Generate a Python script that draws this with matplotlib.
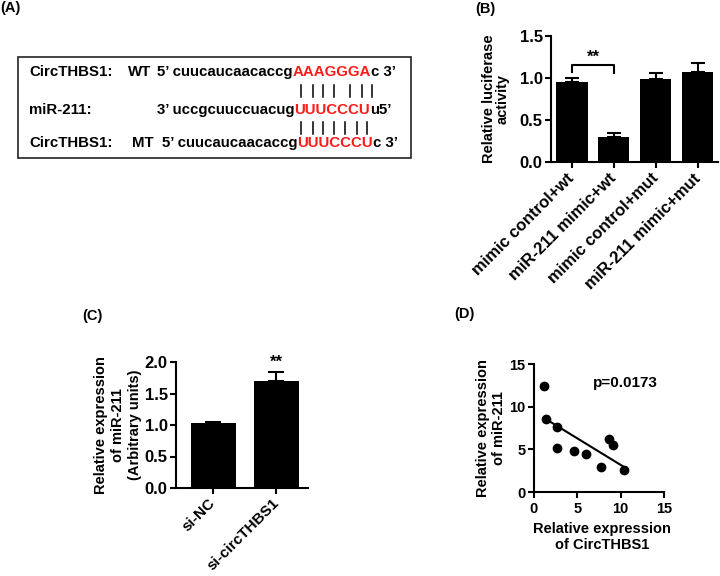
import numpy as np
import matplotlib
matplotlib.use("Agg")
import matplotlib.pyplot as plt
from matplotlib.patches import Rectangle

plt.rcParams['font.family'] = ['Liberation Sans', 'DejaVu Sans']
plt.rcParams['font.weight'] = 'bold'

# ---------------- data ----------------
# Panel A: sequence alignment
seq_names = ["CircTHBS1:", "miR-211:", "CircTHBS1:"]
seq_tags = ["WT", "", "MT"]
seq_left = ["5\u2019 cuucaucaacaccg", "3\u2019 uccgcuuccuacug", "5\u2019 cuucaucaacaccg"]
seq_site = ["AAAGGGA", "UUUCCCU", "UUUCCCU"]
seq_right = ["c 3\u2019", "u5\u2019", "c 3\u2019"]

# Panel B
b_categories = ["mimic control+wt", "miR-211 mimic+wt", "mimic control+mut", "miR-211 mimic+mut"]
b_values = [0.95, 0.30, 0.985, 1.07]
b_errors = [0.05, 0.045, 0.08, 0.105]

# Panel C
c_categories = ["si-NC", "si-circTHBS1"]
c_values = [1.03, 1.70]
c_errors = [0.02, 0.14]

# Panel D
d_x = [1.18, 1.42, 2.68, 2.68, 4.57, 6.02, 7.68, 8.62, 9.06, 10.35]
d_y = [12.37, 8.58, 7.59, 5.10, 4.86, 4.43, 2.96, 6.20, 5.53, 2.57]
d_pvalue = "p=0.0173"

# ---------------- figure ----------------
W, H = 720, 576
fig = plt.figure(figsize=(W / 100, H / 100), dpi=100)


def px_axes(l, t, r, b):
    return fig.add_axes([l / W, 1 - b / H, (r - l) / W, (b - t) / H])


def style(ax, lw=1.5):
    for s in ["top", "right"]:
        ax.spines[s].set_visible(False)
    for s in ["left", "bottom"]:
        ax.spines[s].set_linewidth(lw)
    ax.tick_params(width=lw, length=4, direction='out')
    ax.tick_params(axis='y', pad=2)


# ---- Panel A (full-figure overlay in pixel coordinates) ----
axA = fig.add_axes([0, 0, 1, 1])
axA.set_xlim(0, W)
axA.set_ylim(H, 0)
axA.axis('off')
axA.add_patch(Rectangle((18, 57), 393, 101, fill=False, lw=1.2, ec='#222222'))

row_y = [72, 110, 143]
tag_x = [128, None, 132]
seq_x = [157, 157, 162]
fsA = 10.8
for i in range(3):
    axA.text(29, row_y[i], seq_names[i], fontsize=fsA, fontweight='bold', va='center', ha='left')
    if seq_tags[i]:
        axA.text(tag_x[i], row_y[i], seq_tags[i], fontsize=fsA, fontweight='bold', va='center', ha='left')
    t1 = axA.text(seq_x[i], row_y[i], seq_left[i], fontsize=fsA, fontweight='bold', va='center', ha='left')
    t2 = axA.annotate(seq_site[i], xy=(1, 0), xycoords=t1, fontsize=fsA, fontweight='bold',
                      va='bottom', ha='left', color='#ff1a1a')
    axA.annotate(seq_right[i], xy=(1, 0), xycoords=t2, fontsize=fsA, fontweight='bold',
                 va='bottom', ha='left')

pair_x_top = [300.7, 312.7, 323.3, 334, 350, 361.7, 372.3]
pair_x_bot = [300.7, 312.7, 323.3, 334, 345, 356.7, 366.7]
for xs, yc in [(pair_x_top, 91), (pair_x_bot, 128)]:
    for x in xs:
        axA.plot([x, x], [yc - 6, yc + 6], color='black', lw=1.1)

# panel letters
axA.text(0, 8, "(A)", fontsize=10.5, fontweight='bold', va='center', ha='left')
axA.text(475, 9, "(B)", fontsize=10.5, fontweight='bold', va='center', ha='left')
axA.text(82, 316, "(C)", fontsize=10.5, fontweight='bold', va='center', ha='left')
axA.text(454, 314, "(D)", fontsize=10.5, fontweight='bold', va='center', ha='left')

# ---- Panel B ----
axB = px_axes(551, 36, 718, 162)
xb = np.arange(len(b_categories))
axB.bar(xb, b_values, width=0.74, color='black')
axB.errorbar(xb, b_values, yerr=[np.zeros(len(b_values)), b_errors], fmt='none',
             ecolor='black', elinewidth=1.5, capsize=5, capthick=1.5)
axB.set_xlim(-0.5, 3.48)
axB.set_ylim(0, 1.5)
axB.set_yticks([0, 0.5, 1.0, 1.5])
axB.set_yticklabels(["0.0", "0.5", "1.0", "1.5"], fontsize=12, fontweight='bold')
axB.set_xticks(xb)
axB.set_xticklabels(b_categories, rotation=45, ha='right', va='center',
                    rotation_mode='anchor', fontsize=12, fontweight='bold')
style(axB)
axB.tick_params(axis='x', pad=6)
axB.set_ylabel("Relative luciferase\nactivity", fontsize=10.5, fontweight='bold',
               va='center', ha='center', linespacing=0.95)
axB.yaxis.set_label_coords((496 - 551) / 167, 0.5)
# significance bracket
axB.plot([0, 0, 1, 1], [1.07, 1.15, 1.15, 1.06], color='black', lw=1.5, clip_on=False)
axB.text(0.5, 1.16, "**", ha='center', va='bottom', fontsize=12, fontweight='bold')

# ---- Panel C ----
axC = px_axes(176, 362, 308, 488)
xc = np.arange(len(c_categories))
axC.bar(xc, c_values, width=0.71, color='black')
axC.errorbar(xc, c_values, yerr=[np.zeros(len(c_values)), c_errors], fmt='none',
             ecolor='black', elinewidth=1.5, capsize=6, capthick=1.5)
axC.set_xlim(-0.59, 1.5)
axC.set_ylim(0, 2.0)
axC.set_yticks([0, 0.5, 1.0, 1.5, 2.0])
axC.set_yticklabels(["0.0", "0.5", "1.0", "1.5", "2.0"], fontsize=12, fontweight='bold')
axC.set_xticks(xc)
axC.set_xticklabels(c_categories, rotation=45, ha='right', va='center',
                    rotation_mode='anchor', fontsize=11, fontweight='bold')
style(axC)
axC.tick_params(axis='x', pad=5)
axC.set_ylabel("Relative expression\nof miR-211\n(Arbitrary units)", fontsize=10.5,
               fontweight='bold', va='center', ha='center', linespacing=1.3)
axC.yaxis.set_label_coords((118 - 176) / 132, 0.5)
axC.text(1, c_values[1] + c_errors[1] + 0.03, "**", ha='center', va='bottom',
         fontsize=12, fontweight='bold')

# ---- Panel D ----
axD = px_axes(534, 364, 664, 492)
axD.scatter(d_x, d_y, s=36, color='black', zorder=3, clip_on=False)
coef = np.polyfit(d_x, d_y, 1)
xl = np.array([min(d_x), max(d_x)])
axD.plot(xl, np.polyval(coef, xl), color='black', lw=1.5)
axD.set_xlim(0, 15)
axD.set_ylim(0, 15)
axD.set_xticks([0, 5, 10, 15])
axD.set_yticks([0, 5, 10, 15])
axD.set_xticklabels(["0", "5", "10", "15"], fontsize=10.5, fontweight='bold')
axD.set_yticklabels(["0", "5", "10", "15"], fontsize=10.5, fontweight='bold')
style(axD)
axD.set_ylabel("Relative expression\nof miR-211", fontsize=10.5, fontweight='bold',
               va='center', ha='center', linespacing=1.1)
axD.yaxis.set_label_coords((491 - 534) / 130, 0.5)
axD.set_xlabel("Relative expression\nof CircTHBS1", fontsize=10.5, fontweight='bold',
               va='center', ha='center', linespacing=1.1)
axD.xaxis.set_label_coords((602 - 534) / 130, -(537 - 492) / 128)
axD.text(6.8, 12.8, d_pvalue, fontsize=11, fontweight='bold', va='center', ha='left')

fig.savefig("out.png", dpi=100)
